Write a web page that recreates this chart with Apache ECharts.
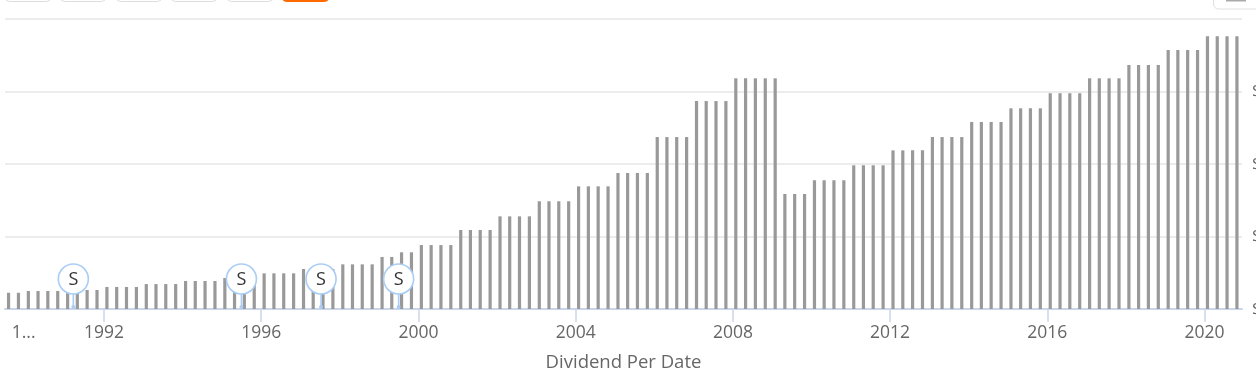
<!DOCTYPE html>
<html>
<head>
<meta charset="utf-8">
<style>html,body{margin:0;padding:0;background:#fff;overflow:hidden}#c{width:1256px;height:382px}</style>
<script src="https://cdn.jsdelivr.net/npm/echarts@6/dist/echarts.min.js"></script>
</head>
<body>
<div id="c"></div>
<script>
const payDates = [
'1989-07-28','1989-10-28',
'1990-01-28','1990-04-28','1990-07-28','1990-10-28',
'1991-01-28','1991-04-28','1991-07-28','1991-10-28',
'1992-01-28','1992-04-28','1992-07-28','1992-10-28',
'1993-01-28','1993-04-28','1993-07-28','1993-10-28',
'1994-01-28','1994-04-28','1994-07-28','1994-10-28',
'1995-01-28','1995-04-28','1995-07-28','1995-10-28',
'1996-01-28','1996-04-28','1996-07-28','1996-10-28',
'1997-01-28','1997-04-28','1997-07-28','1997-10-28',
'1998-01-28','1998-04-28','1998-07-28','1998-10-28',
'1999-01-28','1999-04-28','1999-07-28','1999-10-28',
'2000-01-28','2000-04-28','2000-07-28','2000-10-28',
'2001-01-28','2001-04-28','2001-07-28','2001-10-28',
'2002-01-28','2002-04-28','2002-07-28','2002-10-28',
'2003-01-28','2003-04-28','2003-07-28','2003-10-28',
'2004-01-28','2004-04-28','2004-07-28','2004-10-28',
'2005-01-28','2005-04-28','2005-07-28','2005-10-28',
'2006-01-28','2006-04-28','2006-07-28','2006-10-28',
'2007-01-28','2007-04-28','2007-07-28','2007-10-28',
'2008-01-28','2008-04-28','2008-07-28','2008-10-28',
'2009-01-28','2009-04-28','2009-07-28','2009-10-28',
'2010-01-28','2010-04-28','2010-07-28','2010-10-28',
'2011-01-28','2011-04-28','2011-07-28','2011-10-28',
'2012-01-28','2012-04-28','2012-07-28','2012-10-28',
'2013-01-28','2013-04-28','2013-07-28','2013-10-28',
'2014-01-28','2014-04-28','2014-07-28','2014-10-28',
'2015-01-28','2015-04-28','2015-07-28','2015-10-28',
'2016-01-28','2016-04-28','2016-07-28','2016-10-28',
'2017-01-28','2017-04-28','2017-07-28','2017-10-28',
'2018-01-28','2018-04-28','2018-07-28','2018-10-28',
'2019-01-28','2019-04-28','2019-07-28','2019-10-28',
'2020-01-28','2020-04-28','2020-07-28','2020-10-28'
];
const dividends = [
0.112,0.112,
0.124,0.124,0.124,0.124,
0.124,0.124,0.131,0.131,
0.152,0.152,0.152,0.152,
0.172,0.172,0.172,0.172,
0.193,0.193,0.193,0.193,
0.214,0.214,0.214,0.214,
0.246,0.246,0.246,0.246,
0.276,0.276,0.276,0.276,
0.308,0.308,0.308,0.308,
0.359,0.359,0.391,0.391,
0.441,0.441,0.441,0.441,
0.545,0.545,0.545,0.545,
0.639,0.639,0.639,0.639,
0.743,0.743,0.743,0.743,
0.846,0.846,0.846,0.846,
0.938,0.938,0.938,0.938,
1.186,1.186,1.186,1.186,
1.434,1.434,1.434,1.434,
1.591,1.591,1.591,1.591,
1.591,0.793,0.793,0.793,
0.888,0.888,0.888,0.888,
0.991,0.991,0.991,0.991,
1.094,1.094,1.094,1.094,
1.186,1.186,1.186,1.186,
1.290,1.290,1.290,1.290,
1.384,1.384,1.384,1.384,
1.488,1.488,1.488,1.488,
1.591,1.591,1.591,1.591,
1.683,1.683,1.683,1.683,
1.786,1.786,1.786,1.786,
1.881,1.881,1.881,1.881
];
const splitDates = ['1991-03-22','1995-07-01','1997-07-10','1999-07-01'];
const splitLabel = 'S';
const tickYears = ['1992-01-01','1996-01-01','2000-01-01','2004-01-01','2008-01-01','2012-01-01','2016-01-01','2020-01-01'];
const clippedLabelDate = '1989-12-15';
const clippedLabelText = '1...';
const axisTitle = 'Dividend Per Date';
const FONT = '"Open Sans", sans-serif';
const ts = s => new Date(s + 'T00:00:00Z').getTime();

const chart = echarts.init(document.getElementById('c'), null, {renderer: 'canvas'});
const btn = (x, w, fill, stroke) => ({type: 'rect', silent: true, shape: {x: x + .5, y: -20, width: w, height: 21.5, r: 4},
  style: {fill, stroke, lineWidth: 1}});
chart.setOption({
  animation: false,
  backgroundColor: '#fff',
  textStyle: {fontFamily: FONT},
  grid: {left: 5, right: 14, top: 19, bottom: 73, outerBoundsMode: 'none', containLabel: false},
  xAxis: {
    type: 'value',
    min: ts('1989-06-25'), max: ts('2020-12-14'),
    name: axisTitle, nameLocation: 'middle', nameGap: 44,
    nameTextStyle: {color: '#666', fontSize: 18.5, fontFamily: FONT},
    axisLine: {show: true, onZero: false, lineStyle: {color: '#ccd6eb', width: 2}},
    axisTick: {show: true, length: 13, customValues: tickYears.map(ts), lineStyle: {color: '#ccd6eb', width: 1.5}},
    axisLabel: {
      show: true, margin: 15, color: '#666', fontSize: 17.5, fontFamily: FONT, hideOverlap: false,
      customValues: [ts(clippedLabelDate)].concat(tickYears.map(ts)),
      formatter: v => v === ts(clippedLabelDate) ? clippedLabelText : String(new Date(v).getUTCFullYear())
    },
    splitLine: {show: false}
  },
  yAxis: {
    type: 'value', position: 'right', min: 0, max: 2, interval: 0.5,
    axisLine: {show: false}, axisTick: {show: false},
    axisLabel: {
      margin: 10, color: '#666', fontSize: 17, fontFamily: FONT, verticalAlign: 'middle',
      formatter: v => v >= 2 ? '' : '$' + v.toFixed(2)
    },
    splitLine: {show: true, lineStyle: {color: '#e6e6e6', width: 1.5}}
  },
  series: [
    {type: 'bar', barWidth: 3.2, itemStyle: {color: '#999'}, silent: true,
     data: payDates.map((d, i) => [ts(d), dividends[i]])},
    {type: 'custom', silent: true, clip: false, z: 5,
     data: splitDates.map(d => [ts(d), 0]),
     encode: {x: 0, y: 1},
     renderItem: (params, api) => {
       const p = api.coord([api.value(0), 0]);
       const cy = p[1] - 30;
       return {type: 'group', children: [
         {type: 'line', shape: {x1: p[0], y1: cy + 15, x2: p[0], y2: p[1] - 1}, style: {stroke: '#a9cdf5', lineWidth: 1.6}},
         {type: 'circle', shape: {cx: p[0], cy: p[1] - 2, r: 2}, style: {fill: '#a9cdf5'}},
         {type: 'circle', shape: {cx: p[0], cy, r: 15}, style: {fill: '#fff', stroke: '#a9cdf5', lineWidth: 1.6}},
         {type: 'text', style: {x: p[0], y: cy + 1, text: splitLabel, fill: '#333', font: '18px ' + FONT, align: 'center', verticalAlign: 'middle'}}
       ]};
     }}
  ],
  graphic: [
    btn(5, 45, '#fff', '#ddd'), btn(60, 45, '#fff', '#ddd'), btn(116, 45, '#fff', '#ddd'),
    btn(171, 45, '#fff', '#ddd'), btn(227, 45, '#fff', '#ddd'), btn(282, 46, '#ff6a00', '#ff6a00'),
    {type: 'rect', silent: true, shape: {x: 1213.5, y: -20, width: 60, height: 29, r: 5}, style: {fill: '#fff', stroke: '#e0e0e0', lineWidth: 1}},
    {type: 'rect', silent: true, shape: {x: 1226, y: 0, width: 20, height: 1.5}, style: {fill: '#aaa'}}
  ]
});
</script>
</body>
</html>
